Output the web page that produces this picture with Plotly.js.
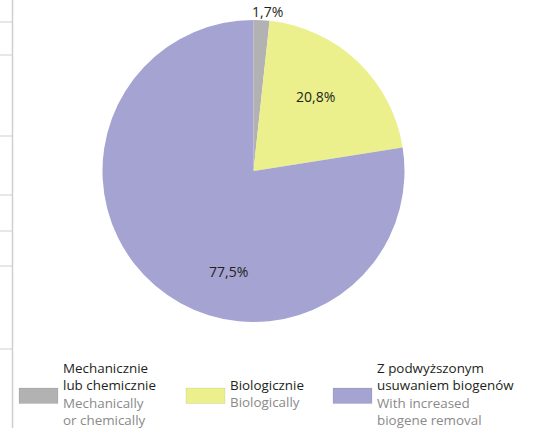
<!DOCTYPE html>
<html>
<head>
<meta charset="utf-8">
<script src="https://cdn.plot.ly/plotly-3.0.1.min.js"></script>
<style>html,body{margin:0;padding:0;background:#fff}#chart{width:542px;height:428px}</style>
</head>
<body>
<div id="chart"></div>
<script>
// ---- data ----
const categoriesPl = [["Mechanicznie", "lub chemicznie"], ["Biologicznie"], ["Z podwyższonym", "usuwaniem biogenów"]];
const categoriesEn = [["Mechanically", "or chemically"], ["Biologically"], ["With increased", "biogene removal"]];
const shares = [1.7, 20.8, 77.5];
const colors = ["#b2b2b2", "#ebf08c", "#a4a3d2"];

// ---- layout helpers (pixel -> paper) ----
const W = 542, H = 428;
const px = x => x / W;
const py = y => 1 - y / H;
const FONT = "Open Sans, sans-serif";

const fmt = v => v.toFixed(1).replace(".", ",") + "%";

// pie label positions (pixels)
const labelPos = [[267.5, 11.5], [315, 97], [228, 271]];

const annotations = shares.map((v, i) => ({
  x: px(labelPos[i][0]), y: py(labelPos[i][1]), xref: "paper", yref: "paper",
  text: fmt(v), showarrow: false, xanchor: "center", yanchor: "middle",
  font: {family: FONT, size: 14, color: "#231f20"}
}));

// legend (custom)
const swatchX = [19, 186, 333];
const swatchW = 39;
const shapes = [];
categoriesPl.forEach((pl, i) => {
  shapes.push({type: "rect", xref: "paper", yref: "paper",
    x0: px(swatchX[i]), x1: px(swatchX[i] + swatchW), y0: py(403.5), y1: py(388),
    fillcolor: colors[i], line: {color: "rgba(0,0,0,0.12)", width: 0.6}});
  const txt = pl.map(t => '<span style="color:#231f20">' + t + '</span>')
    .concat(categoriesEn[i].map(t => '<span style="color:#8a8a8a">' + t + '</span>')).join("<br>");
  annotations.push({x: px(swatchX[i] + swatchW + 4), y: py(393.5), xref: "paper", yref: "paper",
    text: txt, showarrow: false, xanchor: "left", yanchor: "middle", align: "left",
    borderpad: 0, font: {family: FONT, size: 13.4, color: "#231f20"}});
});

// left-edge decoration (frame lines)
shapes.push({type: "line", xref: "paper", yref: "paper", x0: px(12.5), x1: px(12.5), y0: 0, y1: 1,
  line: {color: "#cfcfcf", width: 1.5}});
[22, 55, 136, 195, 231, 266, 349].forEach(y => shapes.push({type: "line", xref: "paper", yref: "paper",
  x0: 0, x1: px(12.5), y0: py(y), y1: py(y), line: {color: "#cfcfcf", width: 1}}));

const trace = {
  type: "pie",
  values: shares,
  labels: categoriesPl.map(a => a.join(" ")),
  marker: {colors: colors, line: {width: 0}},
  sort: false,
  direction: "clockwise",
  rotation: 0,
  textinfo: "none",
  hoverinfo: "none",
  showlegend: false,
  domain: {x: [px(102), px(405)], y: [py(322), py(20)]}
};

Plotly.newPlot("chart", [trace], {
  width: W, height: H,
  margin: {l: 0, r: 0, t: 0, b: 0},
  paper_bgcolor: "#fff",
  showlegend: false,
  annotations, shapes
}, {staticPlot: true});
</script>
</body>
</html>
